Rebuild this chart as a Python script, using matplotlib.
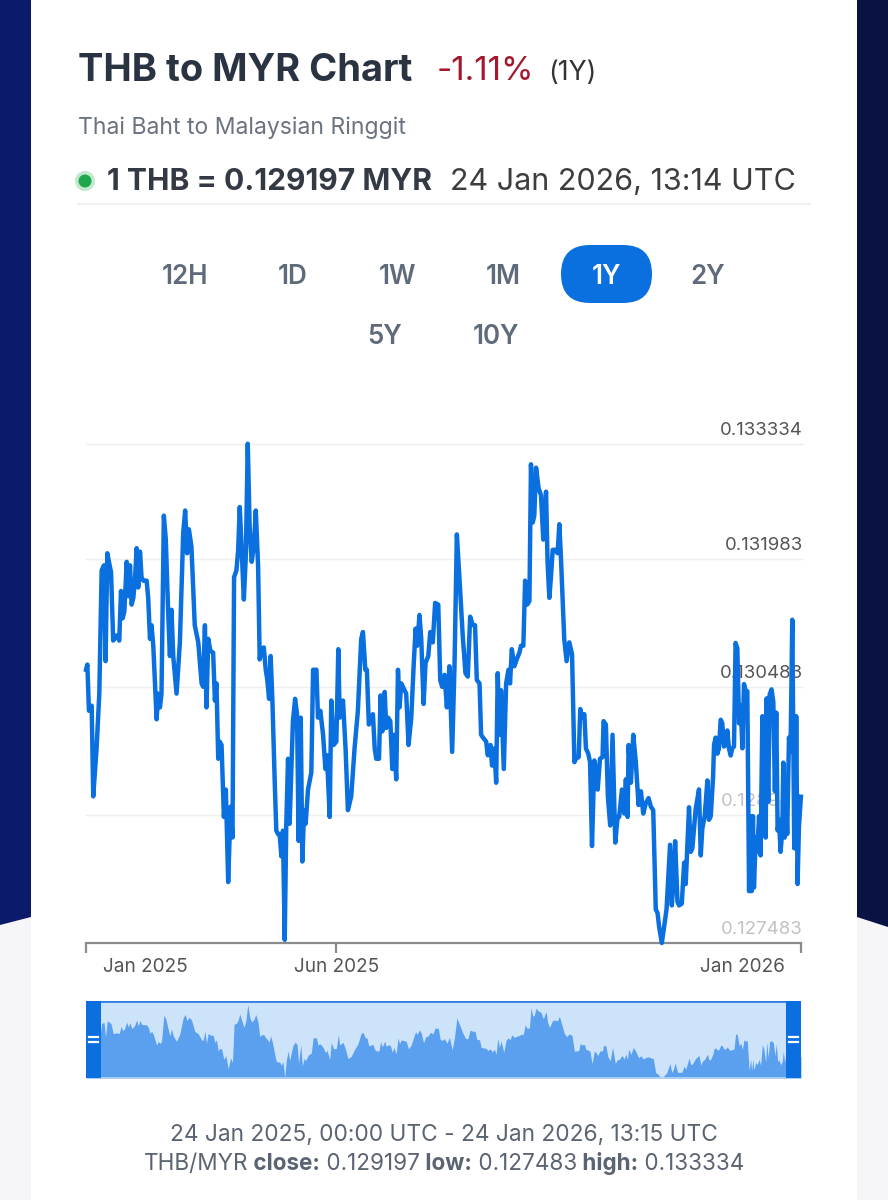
import matplotlib.pyplot as plt
import matplotlib.patches as mpatches
from matplotlib.transforms import offset_copy, ScaledTranslation
import pandas as pd

plt.rcParams['font.family'] = ['Inter', 'DejaVu Sans']

# --- data ---
start = pd.Timestamp("2025-01-24 00:00")
end = pd.Timestamp("2026-01-24 13:15")

# days since start, THB->MYR rate
day_offsets = [
    0.0, 0.7, 1.5, 2.9, 3.7, 5.4, 6.8, 8.0, 9.2, 10.0,
    10.9, 11.9, 12.8, 13.9, 15.7, 17.0, 17.9, 18.7, 19.6, 20.8,
    21.6, 22.5, 23.3, 24.2, 25.0, 25.9, 26.7, 27.6, 28.4, 29.3,
    31.0, 31.8, 32.7, 33.5, 34.4, 36.1, 36.9, 37.8, 38.6, 39.8,
    40.8, 42.0, 42.9, 43.7, 44.6, 46.3, 48.0, 49.7, 50.7, 51.7,
    52.6, 53.9, 55.6, 57.4, 59.1, 59.9, 60.8, 61.6, 62.5, 63.6,
    65.0, 65.9, 66.7, 67.6, 68.4, 69.3, 70.5, 71.5, 72.7, 73.9,
    74.9, 75.7, 76.9, 77.8, 78.6, 79.6, 80.7, 81.7, 82.7, 83.7,
    84.7, 85.8, 86.8, 88.0, 88.8, 89.7, 90.9, 91.9, 92.7, 93.6,
    94.4, 95.3, 96.5, 97.3, 98.2, 99.0, 99.9, 100.7, 101.6, 102.4,
    103.3, 104.1, 105.8, 106.9, 107.9, 108.7, 109.8, 110.6, 111.5, 112.3,
    113.5, 115.2, 116.1, 117.8, 118.6, 119.8, 121.2, 122.4, 123.2, 124.6,
    125.4, 126.6, 128.0, 129.0, 129.7, 131.4, 132.7, 133.9, 135.6, 137.3,
    139.0, 140.7, 141.6, 142.8, 143.6, 144.6,
    146.7, 147.6, 148.4, 149.8, 150.6, 151.5, 152.7, 153.5, 154.4, 155.6,
    156.6, 157.4, 158.6, 159.5, 160.3, 161.2, 162.9, 163.7, 164.9, 166.3,
    167.5, 168.5, 169.3, 170.5, 171.4, 172.6, 173.6, 175.0, 176.0, 177.3,
    178.5, 180.1, 181.1, 182.1, 183.3, 184.5, 185.8, 187.2, 188.4, 189.6,
    190.9, 192.6, 194.0, 195.2, 196.4, 197.8, 198.9, 199.8, 201.2, 202.0,
    203.2, 204.6, 205.4, 206.8, 207.6, 208.8, 209.7, 210.5, 211.4, 212.2,
    213.6, 214.8, 216.0, 216.8, 217.7, 219.0, 220.2, 221.6, 222.4, 223.6,
    224.5, 225.5, 226.7, 227.5, 228.4, 229.2, 230.1, 231.4, 232.6, 233.8,
    235.2, 236.0, 236.9, 237.7, 238.6, 240.0, 241.1, 242.0, 242.8, 244.5,
    245.7, 247.1, 248.5, 249.7, 250.5, 251.9, 252.7, 253.6, 254.8, 255.6,
    256.8, 257.7, 258.7, 259.9, 260.7, 261.6, 262.8, 264.1, 264.6, 265.8,
    266.8, 268.0, 269.2, 270.6, 271.8, 272.6, 274.0, 275.2, 276.0, 276.9,
    277.4, 278.6, 279.8, 281.1, 282.5, 283.7, 284.9, 286.2, 287.6, 288.8,
    290.0, 291.3, 292.2, 293.0, 294.4, 295.6, 296.8,
    298.6, 299.5, 300.3, 301.2, 302.4, 303.2, 304.6, 305.8, 306.6, 308.3,
    309.2, 310.0, 311.7, 313.4, 314.3, 315.1, 316.3, 317.7, 318.5, 319.4,
    320.6, 321.1, 321.9, 322.8, 323.6, 324.5, 325.3, 326.2, 327.0, 327.9,
    328.7, 329.6, 330.4, 331.3, 332.1, 333.0, 333.9, 334.7, 335.6, 336.4,
    337.3, 338.1, 339.0, 339.8, 340.3, 341.0, 341.5, 342.4, 343.2, 344.1,
    344.9, 345.8, 346.6, 347.5, 348.0, 348.8, 349.5, 350.5, 351.4, 352.2,
    352.9, 353.6, 354.3, 355.1, 356.0, 356.5, 357.2, 357.7, 358.5, 359.4,
    360.2, 361.1, 361.6, 362.1, 362.8, 363.1, 363.8, 364.5, 365.5,
]
rates = [
    0.130685, 0.130746, 0.130204, 0.130264, 0.129201, 0.129762, 0.130405, 0.131849, 0.131909, 0.130786,
    0.132050, 0.131929, 0.131829, 0.131027, 0.131087, 0.131027, 0.131608, 0.131287, 0.131368, 0.131950,
    0.131548, 0.131909, 0.131448, 0.131528, 0.131729, 0.132110, 0.131649, 0.132070, 0.131769, 0.131729,
    0.131729, 0.131528, 0.131047, 0.131207, 0.130966, 0.130104, 0.130405, 0.130244, 0.130405, 0.132491,
    0.132210, 0.131368, 0.130846, 0.131388, 0.130846, 0.130405, 0.131006, 0.132291, 0.132551, 0.132050,
    0.132331, 0.132130, 0.131207, 0.131006, 0.130525, 0.130485, 0.131207, 0.130244, 0.131047, 0.130906,
    0.130886, 0.130324, 0.130525, 0.129642, 0.129843, 0.129803, 0.128960, 0.129281, 0.128197, 0.129080,
    0.128719, 0.131769, 0.131849, 0.132090, 0.132592, 0.132090, 0.131508, 0.132010, 0.133334, 0.132331,
    0.131950, 0.132130, 0.132551, 0.131889, 0.130806, 0.130926, 0.130946, 0.130685, 0.130565, 0.130344,
    0.130846, 0.130324, 0.129361, 0.128799, 0.128759, 0.128759, 0.128498, 0.128799, 0.127520, 0.128880,
    0.129642, 0.128880, 0.130083, 0.130344, 0.130164, 0.128679, 0.130124, 0.128438, 0.129040, 0.128880,
    0.129281, 0.129482, 0.130685, 0.130685, 0.130124, 0.130204, 0.129923, 0.129522, 0.129683, 0.128960,
    0.130324, 0.129803, 0.129843, 0.130926, 0.130124, 0.130324, 0.129762, 0.129040, 0.129201, 0.129762,
    0.130204, 0.131047, 0.131127, 0.130685, 0.130685, 0.130043,
    0.130164, 0.129762, 0.129642, 0.129642, 0.130384, 0.129963, 0.130425, 0.130003, 0.130124, 0.130083,
    0.129522, 0.129923, 0.129401, 0.130685, 0.130244, 0.130525, 0.130445, 0.130405, 0.129803, 0.130124,
    0.130726, 0.131167, 0.130966, 0.131327, 0.131047, 0.130284, 0.130766, 0.130846, 0.131127, 0.131006,
    0.131468, 0.131448, 0.130565, 0.130485, 0.130625, 0.130244, 0.130726, 0.129722, 0.130726, 0.132271,
    0.131769, 0.131087, 0.130645, 0.130605, 0.131307, 0.131207, 0.131207, 0.130565, 0.130525, 0.129923,
    0.129883, 0.129843, 0.129683, 0.129803, 0.129562, 0.129762, 0.129361, 0.130645, 0.129923, 0.130445,
    0.129522, 0.130525, 0.130685, 0.130525, 0.130926, 0.130726, 0.130806, 0.130886, 0.130966, 0.130966,
    0.131729, 0.131448, 0.131488, 0.133093, 0.132411, 0.132491, 0.133053, 0.132812, 0.132732, 0.132210,
    0.132772, 0.131929, 0.131528, 0.131769, 0.132090, 0.132090, 0.132050, 0.132391, 0.132010, 0.131047,
    0.130786, 0.131006, 0.130866, 0.129602, 0.129642, 0.129662, 0.130224, 0.130124, 0.130164, 0.129762,
    0.129702, 0.129602, 0.128619, 0.129622, 0.129522, 0.129281, 0.129642, 0.129662, 0.130083, 0.130043,
    0.129201, 0.128860, 0.129923, 0.128659, 0.128960, 0.128960, 0.129281, 0.129000, 0.129401, 0.128960,
    0.129803, 0.129361, 0.129923, 0.129602, 0.129100, 0.129261, 0.129000, 0.129120, 0.129181, 0.129080,
    0.129040, 0.127876, 0.127836, 0.127676, 0.127483, 0.127676, 0.127876,
    0.128634, 0.127923, 0.128174, 0.128676, 0.127965, 0.127923, 0.127944, 0.128425, 0.128174, 0.129074,
    0.128551, 0.128592, 0.129053, 0.129283, 0.128509, 0.128823, 0.128969, 0.129388, 0.128927, 0.128969,
    0.129429, 0.129806, 0.129890, 0.129701, 0.129764, 0.130099, 0.130057, 0.129785, 0.129806, 0.129973,
    0.129764, 0.129680, 0.129764, 0.129785, 0.130999, 0.130936, 0.130057, 0.130266, 0.129764, 0.130517,
    0.130434, 0.130434, 0.128090, 0.128969, 0.128090, 0.128969, 0.128132, 0.128718, 0.128551, 0.128969,
    0.128509, 0.130141, 0.129764, 0.128718, 0.130350, 0.129136, 0.130392, 0.130455, 0.130308, 0.129262,
    0.130183, 0.128802, 0.128927, 0.128551, 0.128802, 0.129597, 0.128718, 0.129304, 0.128760, 0.129890,
    0.129722, 0.131271, 0.129973, 0.128592, 0.129304, 0.130141, 0.128174, 0.128843, 0.129197,
]

y_ticks = [0.127483, 0.128983, 0.130483, 0.131983, 0.133334]
y_tick_labels = ["0.127483", "0.128983", "0.130483", "0.131983", "0.133334"]
y_label_colors = ["#c2c2c2", "#c2c2c2", "#555555", "#555555", "#555555"]
x_ticks = [start, pd.Timestamp("2025-06-01"), end]
x_tick_labels = ["Jan 2025", "Jun 2025", "Jan 2026"]

buttons_row1 = ["12H", "1D", "1W", "1M", "1Y", "2Y"]
buttons_row2 = ["5Y", "10Y"]
selected = "1Y"

dates = [start + pd.Timedelta(days=d) for d in day_offsets]
pt = 0.72  # px -> pt at dpi 100

fig = plt.figure(figsize=(8.88, 12), dpi=100)
fig.patch.set_facecolor("#f6f6f8")

# page background, pixel coordinates
bg = fig.add_axes([0, 0, 1, 1])
bg.set_xlim(0, 888)
bg.set_ylim(1200, 0)
bg.axis("off")
bg.add_patch(mpatches.Polygon([(0, 0), (31, 0), (31, 917), (0, 925)], color="#0c1a6c", lw=0))
bg.add_patch(mpatches.Polygon([(857, 0), (888, 0), (888, 927), (857, 917)], color="#0a1244", lw=0))
bg.add_patch(mpatches.Rectangle((31, 0), 826, 1200, color="white", lw=0))

# header
bg.text(78, 81, "THB to MYR Chart", fontsize=38 * pt, weight="bold", color="#2a3342")
bg.text(437, 80, "-1.11%", fontsize=33 * pt, color="#a3182c")
bg.text(548, 80, "(1Y)", fontsize=26.5 * pt, color="#333333")
bg.text(78, 134, "Thai Baht to Malaysian Ringgit", fontsize=23 * pt, color="#6b7280")
bg.add_patch(mpatches.Circle((85, 181), 10, color="#c3e8cf", lw=0))
bg.add_patch(mpatches.Circle((85, 181), 6.5, color="#1ea74b", lw=0))
bg.text(107, 190, "1 THB = 0.129197 MYR", fontsize=30 * pt, weight="bold", color="#333a44")
bg.text(450, 190, "24 Jan 2026, 13:14 UTC", fontsize=30.5 * pt, color="#3d3d3d")
bg.plot([78, 810], [204, 204], color="#eeeeee", lw=1.2)

# range buttons
row1_x = [185, 293, 397, 503, 606, 708]
row2_x = [385, 496]
for lab, x in zip(buttons_row1, row1_x):
    if lab == selected:
        bg.add_patch(mpatches.FancyBboxPatch((561, 245), 91, 58,
                     boxstyle="round,pad=0,rounding_size=29", color="#0a6fdf", lw=0))
    bg.text(x, 274, lab, fontsize=26 * pt, weight="semibold", ha="center", va="center_baseline",
            color="white" if lab == selected else "#5f6b7b")
for lab, x in zip(buttons_row2, row2_x):
    bg.text(x, 334, lab, fontsize=26 * pt, weight="semibold", ha="center", va="center_baseline",
            color="#5f6b7b")

# main chart
ax = fig.add_axes([86 / 888, 257 / 1200, 715 / 888, 499.3 / 1200])
ax.set_facecolor("none")
ax.set_xlim(start, end)
ax.set_ylim(y_ticks[0], y_ticks[-1])
for s in ["top", "left", "right"]:
    ax.spines[s].set_visible(False)
ax.spines["bottom"].set_color("#8c8c8c")
ax.spines["bottom"].set_linewidth(1.6)
ax.set_yticks([])
ytrans = offset_copy(ax.get_yaxis_transform(), fig=fig, x=2, y=5, units="dots")
for v, lab, c in zip(y_ticks, y_tick_labels, y_label_colors):
    if v != y_ticks[0]:
        ax.plot([0, 1.003], [v, v], transform=ax.get_yaxis_transform(), color="#efefef",
                lw=1, clip_on=False, zorder=1)
    ax.text(1.0, v, lab, transform=ytrans, ha="right", va="bottom", fontsize=18.6 * pt,
            color=c, zorder=1)
ax.plot(dates, rates, color="#0a6fdf", lw=3.2, solid_joinstyle="round", clip_on=False, zorder=3)

ax.set_xticks(x_ticks)
ax.set_xticklabels(x_tick_labels, fontsize=19 * pt, color="#555555")
ax.tick_params(axis="x", length=7, width=1.6, color="#8c8c8c", pad=4)
tl = ax.get_xticklabels()
tl[0].set_ha("left")
tl[0].set_transform(tl[0].get_transform() + ScaledTranslation(0.17, 0, fig.dpi_scale_trans))
tl[-1].set_ha("right")
tl[-1].set_transform(tl[-1].get_transform() + ScaledTranslation(-0.16, 0, fig.dpi_scale_trans))

# navigator
nav = fig.add_axes([86 / 888, 122 / 1200, 715 / 888, 77 / 1200])
nav.set_facecolor("#cde3fa")
nav.set_xlim(start, end)
lo, hi = min(rates), max(rates)
nav.set_ylim(lo, hi + (hi - lo) * 0.05)
nav.fill_between(dates, rates, lo, color="#5aa0ee", lw=0)
nav.set_xticks([])
nav.set_yticks([])
for s in nav.spines.values():
    s.set_visible(False)
nav.axhline(hi + (hi - lo) * 0.05, color="#2f80e0", lw=2)
nav.axhline(lo, color="#b3d4f6", lw=2)

# overlay: navigator handles and footer
fg = fig.add_axes([0, 0, 1, 1])
fg.set_xlim(0, 888)
fg.set_ylim(1200, 0)
fg.axis("off")
for hx in [86, 786]:
    fg.add_patch(mpatches.Rectangle((hx, 1001), 15, 77, color="#0b6fe0", lw=0))
    for hy in [1037, 1042]:
        fg.plot([hx + 3, hx + 12], [hy, hy], color="white", lw=1.6)

fg.text(444, 1141, "24 Jan 2025, 00:00 UTC - 24 Jan 2026, 13:15 UTC", fontsize=22.7 * pt,
        ha="center", color="#5b6472")

segments = [("THB/MYR", "normal"), (" close:", "bold"), (" 0.129197", "normal"),
            (" low:", "bold"), (" 0.127483", "normal"), (" high:", "bold"), (" 0.133334", "normal")]
renderer = fig.canvas.get_renderer()
pieces = [fg.text(0, 1170, s, fontsize=22.5 * pt, weight=w, color="#5b6472") for s, w in segments]
widths = [p.get_window_extent(renderer).width for p in pieces]
x0 = 444 - sum(widths) / 2
for p, w in zip(pieces, widths):
    p.set_x(x0)
    x0 += w

fig.savefig("out.png", dpi=100)
